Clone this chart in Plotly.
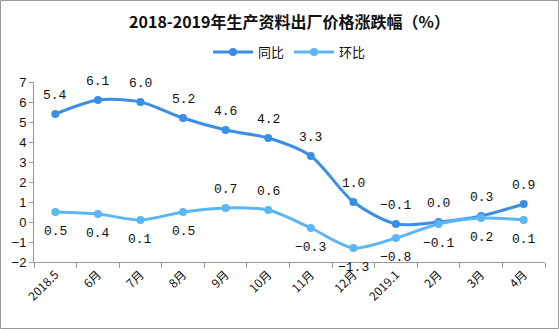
import plotly.graph_objects as go

months = ["2018.5", "6月", "7月", "8月", "9月", "10月", "11月", "12月",
          "2019.1", "2月", "3月", "4月"]
yoy = [5.4, 6.1, 6.0, 5.2, 4.6, 4.2, 3.3, 1.0, -0.1, 0.0, 0.3, 0.9]
mom = [0.5, 0.4, 0.1, 0.5, 0.7, 0.6, -0.3, -1.3, -0.8, -0.1, 0.2, 0.1]
# label placement: +1 above the point, -1 below
mom_side = [-1, -1, -1, -1, 1, 1, -1, -1, -1, -1, -1, -1]

W, H = 559, 329
ML, MR, MT, MB = 34, 14, 82, 67

c_yoy = "#3a8ee6"
c_mom = "#5cb6f2"
num_font = dict(family="Liberation Mono, DejaVu Sans Mono", size=13, color="#111")

fig = go.Figure()
fig.add_trace(go.Scatter(
    x=months, y=yoy, name="同比", mode="lines+markers",
    line=dict(color=c_yoy, width=3, shape="spline", smoothing=0.8),
    marker=dict(size=8, color=c_yoy),
))
fig.add_trace(go.Scatter(
    x=months, y=mom, name="环比", mode="lines+markers",
    line=dict(color=c_mom, width=3, shape="spline", smoothing=0.8),
    marker=dict(size=8, color=c_mom),
))


def fmt(v):
    return f"{v:.1f}".replace("-", "\u2212")


annotations = []
for i, v in enumerate(yoy):
    annotations.append(dict(x=i, y=v, xref="x", yref="y", text=fmt(v),
                            showarrow=False, yshift=19, font=num_font))
for i, (v, s) in enumerate(zip(mom, mom_side)):
    annotations.append(dict(x=i, y=v, xref="x", yref="y", text=fmt(v),
                            showarrow=False, yshift=19 * s, font=num_font))

pw, ph = W - ML - MR, H - MT - MB
border = dict(type="rect", xref="paper", yref="paper",
              x0=-ML / pw + 0.5 / pw, x1=1 + MR / pw - 0.5 / pw,
              y0=-MB / ph + 0.5 / ph, y1=1 + MT / ph - 0.5 / ph,
              line=dict(color="#999", width=1), layer="below")

fig.update_layout(
    width=W, height=H,
    margin=dict(l=ML, r=MR, t=MT, b=MB),
    paper_bgcolor="white", plot_bgcolor="white",
    font=dict(family="Noto Sans CJK SC", color="#111"),
    title=dict(text="<b>2018-2019年生产资料出厂价格涨跌幅（%）</b>",
               x=0.5, xref="paper", y=1 - 22 / H, yanchor="middle",
               font=dict(size=16, color="#111")),
    legend=dict(orientation="h", x=0.5, xanchor="center",
                y=1 + 30 / ph, yanchor="middle",
                font=dict(size=13), itemwidth=40, bgcolor="rgba(0,0,0,0)"),
    showlegend=True,
    annotations=annotations,
    shapes=[border],
)
fig.update_xaxes(
    type="category", showline=True, linecolor="#999", linewidth=1,
    ticks="outside", ticklen=5, tickcolor="#999", tickson="boundaries",
    tickangle=-45, tickfont=dict(size=12, family="Noto Sans CJK SC"),
    showgrid=False, zeroline=False, range=[-0.5, 11.5],
)
fig.update_yaxes(
    range=[-2, 7], dtick=1, showline=True, linecolor="#999", linewidth=1,
    ticks="outside", ticklen=4, tickcolor="#999",
    tickfont=dict(size=13, family="Liberation Sans"),
    showgrid=False, zeroline=False,
)

fig.write_html("out.html")
